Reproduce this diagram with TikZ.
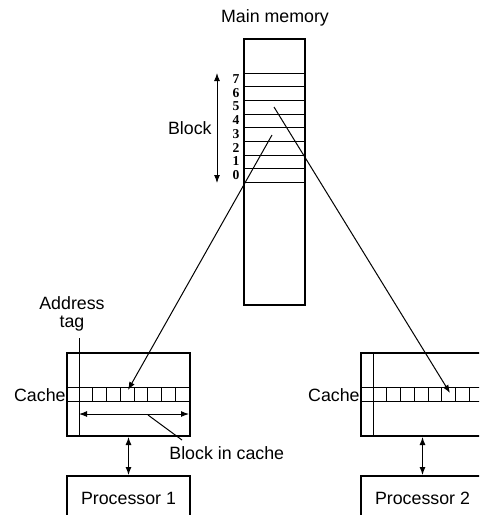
\documentclass[tikz,border=0pt]{standalone}
\usepackage{fontspec}
\setmainfont{Liberation Sans}
\newfontfamily\digitfont{Liberation Serif}
\usepackage{tikz}
\usetikzlibrary{arrows,arrows.meta}
\usetikzlibrary{positioning}
\usetikzlibrary{calc}
\tikzstyle{membox}=[rectangle,draw,line width=1pt,minimum width=30.5pt,minimum height=133pt,inner sep=0pt]
\tikzstyle{cachebox}=[rectangle,draw,line width=1pt,minimum width=61.5pt,minimum height=41.5pt,inner sep=0pt]
\tikzstyle{procbox}=[rectangle,draw,line width=1pt,minimum width=61.5pt,minimum height=22pt,inner sep=0pt]
\tikzstyle{edge} = [draw,line width=0.5pt,->]
\tikzstyle{twoway} = [draw,line width=0.5pt,<->]
\tikzstyle{thinline} = [draw,line width=0.5pt]
\tikzstyle{digit} = [font=\digitfont\bfseries\fontsize{6.8}{7}\selectfont,inner sep=0pt]
\tikzset{txt/.style={font=\fontsize{8.9}{9}\selectfont,inner sep=0pt,align=center}}

\begin{document}
\begin{tikzpicture}[x=0.5pt, y=-0.5pt, >={Latex[length=4pt,width=3pt]}]

 \clip (0,0) rectangle (479,515);

 %Main memory
 \node[membox] (mem) at (274.5,172) {};
 \node[txt] (title) at (275,18) {Main memory};

 \def\rowtop{73};
 \def\rowh{13.7};

  \foreach \i in {0,...,8}
         \path[thinline] (244,\rowtop+\i*\rowh) -- (305,\rowtop+\i*\rowh);

  \foreach \d in {0,...,7}
         \node[digit] (d\d) at (236,{175-\d*\rowh}) {\d};

 \coordinate (btop) at (217,73);
 \coordinate (bbot) at (217,183);
 \path[twoway] (btop) -- (bbot);
 \node[txt, anchor=east] (block) at (212,128) {Block};

 %rows that go to the caches
 \coordinate (row3) at (272,135);
 \coordinate (row5) at (274,107);

 %Caches
  \foreach \name/\dx/\proc/\label in {cacheA/66/procA/1, cacheB/360/procB/2}
  {
   \node[cachebox, anchor=north west] (\name) at (\dx,352) {};
   \path[thinline] (\dx+13,352) -- (\dx+13,435);
   \path[thinline] (\dx,387) -- (\dx+123,387);
   \path[thinline] (\dx,401) -- (\dx+123,401);
   \foreach \i in {1,...,7}
          \path[thinline] (\dx+13+\i*13.75,387) -- (\dx+13+\i*13.75,401);
   \node[txt, anchor=east] at (\name.west |- 0,395) {Cache};

   \node[procbox, anchor=north west, txt] (\proc) at (\dx,475) {Processor \label};
   \path[twoway] (\name.south) -- (\proc.north);
  }

 %Address tag
 \coordinate (tagtop) at (79,338);
 \path[thinline] (tagtop) -- (79,352);
 \node[txt, align=center] (tag) at (72,314) {Address\\[0pt]tag};

 %Block in cache
 \coordinate (bcl) at (79,414);
 \coordinate (bcr) at (189,414);
 \path[twoway] (bcl) -- (bcr);
 \coordinate (lead) at (148,415);
 \node[txt, anchor=west] (bic) at (169,453) {Block in cache};
 \path[thinline] (lead) -- (182,440);

 %memory to cache
 \coordinate (cellA) at (128,390);
 \coordinate (cellB) at (450,393);
 \path[edge] (row3) -- (cellA);
 \path[edge] (row5) -- (cellB);

\end{tikzpicture}
\end{document}
